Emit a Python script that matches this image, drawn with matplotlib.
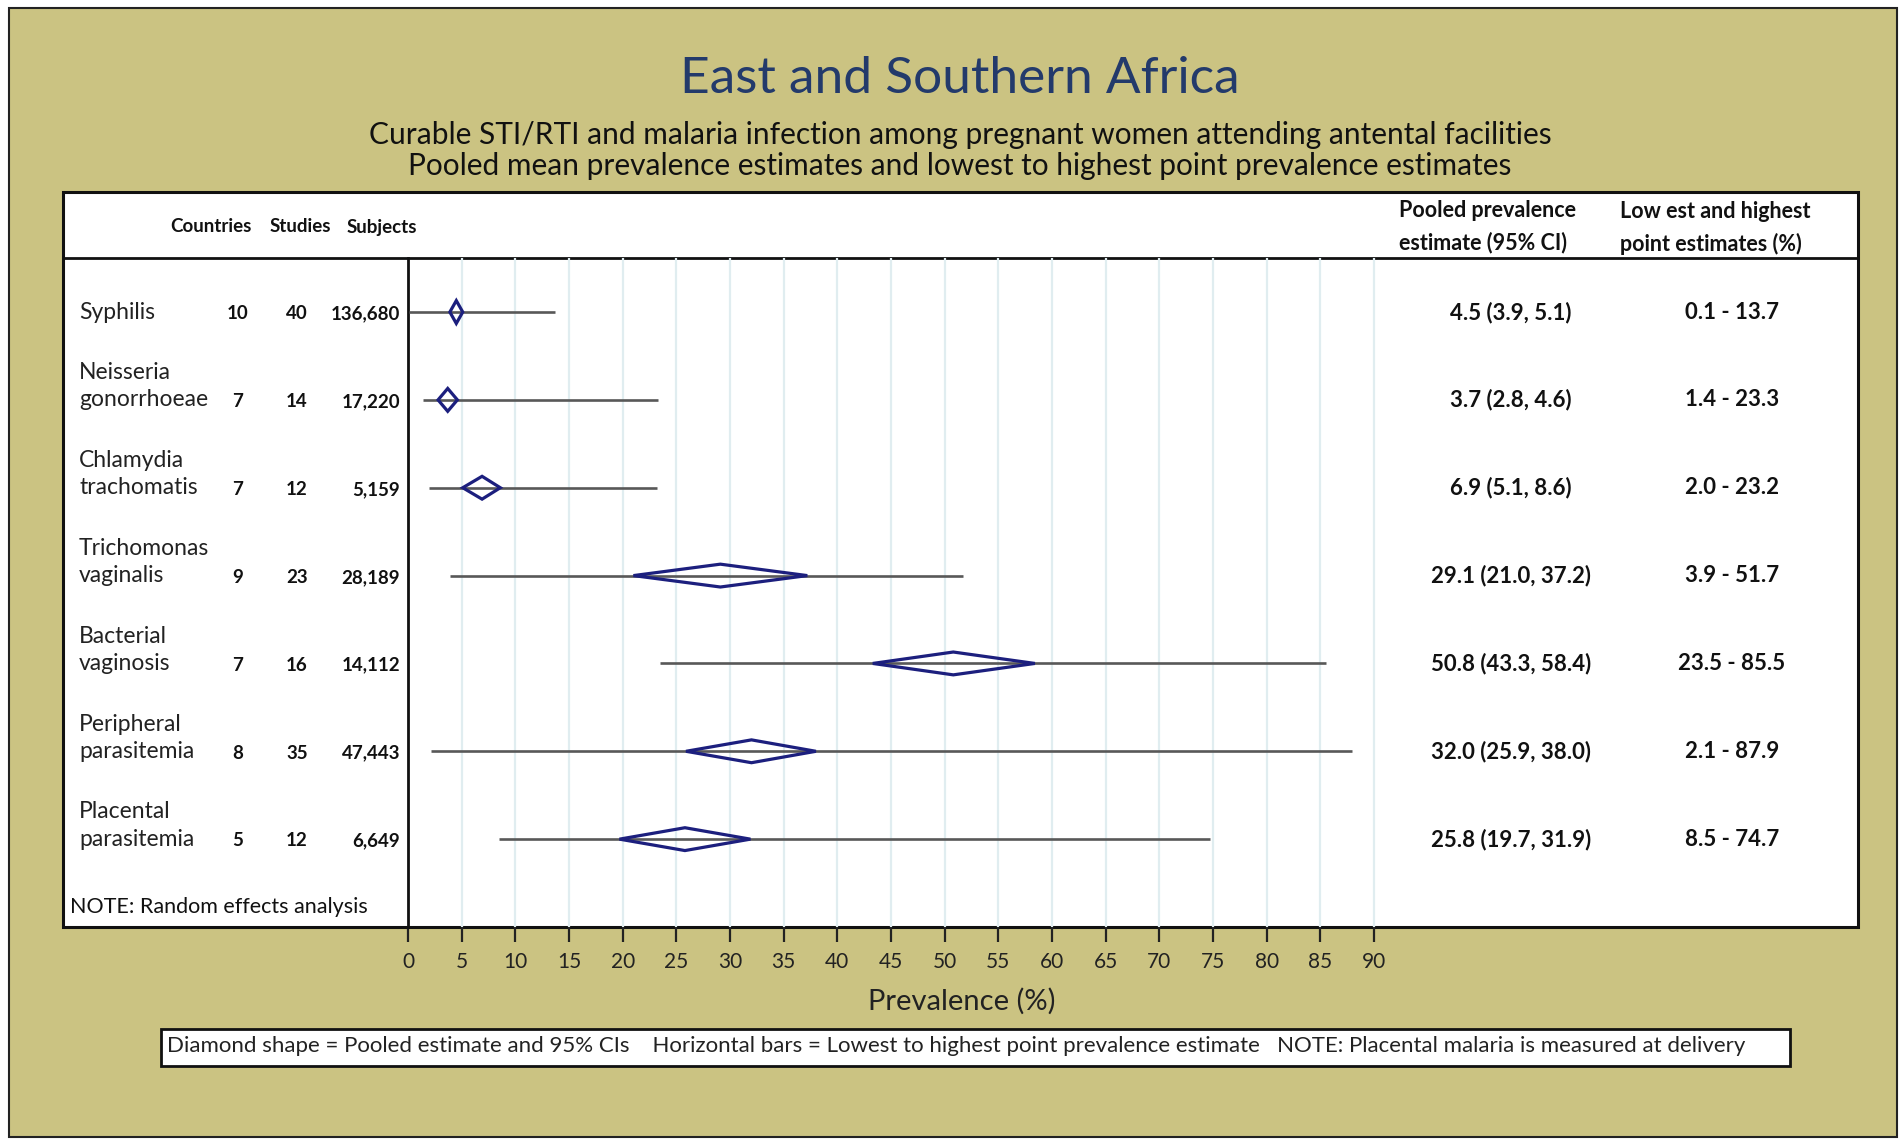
import matplotlib
matplotlib.use("Agg")
import matplotlib.pyplot as plt
from matplotlib.patches import Rectangle, Polygon
from matplotlib import transforms

plt.rcParams['font.family'] = ['Lato', 'DejaVu Sans']

# Forest plot data: pooled prevalence, 95% CI and lowest/highest point estimates
infections = ["Syphilis", "Neisseria\ngonorrhoeae", "Chlamydia\ntrachomatis",
              "Trichomonas\nvaginalis", "Bacterial\nvaginosis",
              "Peripheral\nparasitemia", "Placental\nparasitemia"]
countries = [10, 7, 7, 9, 7, 8, 5]
studies = [40, 14, 12, 23, 16, 35, 12]
subjects = [136680, 17220, 5159, 28189, 14112, 47443, 6649]
pooled = [4.5, 3.7, 6.9, 29.1, 50.8, 32.0, 25.8]
ci_low = [3.9, 2.8, 5.1, 21.0, 43.3, 25.9, 19.7]
ci_high = [5.1, 4.6, 8.6, 37.2, 58.4, 38.0, 31.9]
point_low = [0.1, 1.4, 2.0, 3.9, 23.5, 2.1, 8.5]
point_high = [13.7, 23.3, 23.2, 51.7, 85.5, 87.9, 74.7]
xticks = list(range(0, 95, 5))

W, H = 1903, 1139
KHAKI = '#cbc382'
NAVY = '#1c1f7e'
TITLE = '#233a6b'


def fx(px):
    return px / W


def fy(py):
    return 1 - py / H


fig = plt.figure(figsize=(W / 100, H / 100), dpi=100, facecolor='white')

# background card and panels
fig.add_artist(Rectangle((fx(9), fy(1137)), fx(1897 - 9), (1137 - 8) / H,
                         transform=fig.transFigure, facecolor=KHAKI,
                         edgecolor='#222222', lw=1.5, zorder=0))
fig.add_artist(Rectangle((fx(63), fy(927)), fx(1858 - 63), (927 - 192) / H,
                         transform=fig.transFigure, facecolor='white',
                         edgecolor='#111111', lw=2.2, zorder=1))
fig.add_artist(plt.Line2D([fx(63), fx(1858)], [fy(258), fy(258)],
                          transform=fig.transFigure, color='#111111', lw=2.0, zorder=2))
fig.add_artist(Rectangle((fx(161), fy(1066)), fx(1790 - 161), (1066 - 1029) / H,
                         transform=fig.transFigure, facecolor='white',
                         edgecolor='#111111', lw=2.0, zorder=1))

fig.text(fx(960), fy(79), "East and Southern Africa", ha='center', va='center',
         fontsize=37, color=TITLE)
fig.text(fx(960), fy(135), "Curable STI/RTI and malaria infection among pregnant women attending antental facilities",
         ha='center', va='center', fontsize=21.5, color='#111111')
fig.text(fx(960), fy(166), "Pooled mean prevalence estimates and lowest to highest point prevalence estimates",
         ha='center', va='center', fontsize=21.5, color='#111111')

# column headers
hdr = dict(fontsize=13.5, fontweight='bold', color='#111111', va='center', ha='center')
fig.text(fx(211), fy(227), "Countries", **hdr)
fig.text(fx(300), fy(227), "Studies", **hdr)
fig.text(fx(382), fy(227), "Subjects", **hdr)
fig.text(fx(1399), fy(227), "Pooled prevalence\nestimate (95% CI)", fontsize=15.5,
         fontweight='bold', color='#111111', va='center', ha='left', linespacing=1.6)
fig.text(fx(1620), fy(228), "Low est and highest\npoint estimates (%)", fontsize=15.5,
         fontweight='bold', color='#111111', va='center', ha='left', linespacing=1.6)

# forest axes: x=0 sits on the left column divider
x0_px, unit_px = 408, 10.734
left_px, right_px, top_px, bot_px = 408, 1858, 258, 927
ax = fig.add_axes([fx(left_px), fy(bot_px), fx(right_px - left_px), (bot_px - top_px) / H])
ax.set_zorder(5)
ax.patch.set_alpha(0)
ax.set_xlim(0, (right_px - x0_px) / unit_px)
ax.set_ylim(7.0, -0.615)
ax.set_xticks(xticks)
ax.set_yticks([])
ax.grid(axis='x', color='#e0edf0', lw=1.6)
ax.set_axisbelow(True)
for side in ['top', 'right', 'bottom']:
    ax.spines[side].set_visible(False)
ax.spines['left'].set_color('#111111')
ax.spines['left'].set_linewidth(2)
ax.tick_params(axis='x', direction='out', length=11, width=1.6, color='#222222',
               labelsize=15, labelcolor='#222222', pad=7)

rows = range(len(infections))
h = 0.13
for i in rows:
    ax.plot([point_low[i], point_high[i]], [i, i], color='#585858', lw=1.9,
            solid_capstyle='butt', zorder=3)
    ax.add_patch(Polygon([(ci_low[i], i), (pooled[i], i - h), (ci_high[i], i), (pooled[i], i + h)],
                         closed=True, fill=False, edgecolor=NAVY, lw=2.3, zorder=4))

# table text in figure-x / data-y coordinates
tr = transforms.blended_transform_factory(fig.transFigure, ax.transData)
for i in rows:
    lines = infections[i].split('\n')
    for k, line in enumerate(reversed(lines)):
        ax.text(fx(79), i - 0.31 * k, line, transform=tr, ha='left', va='center',
                fontsize=16.5, color='#222222', clip_on=False)
    num = dict(transform=tr, va='center', fontsize=13.5, fontweight='bold',
               color='#111111', clip_on=False)
    ax.text(fx(238), i + 0.02, str(countries[i]), ha='center', **num)
    ax.text(fx(297), i + 0.02, str(studies[i]), ha='center', **num)
    ax.text(fx(400), i + 0.02, f"{subjects[i]:,}", ha='right', **num)
    val = dict(transform=tr, va='center', ha='center', fontsize=16, fontweight='bold',
               color='#111111', clip_on=False)
    ax.text(fx(1511), i, f"{pooled[i]:.1f} ({ci_low[i]:.1f}, {ci_high[i]:.1f})", **val)
    ax.text(fx(1732), i, f"{point_low[i]:.1f} - {point_high[i]:.1f}", **val)

fig.text(fx(70), fy(907), "NOTE: Random effects analysis", ha='left', va='center',
         fontsize=15.5, color='#111111', zorder=6)
fig.text(fx(962), fy(1001), "Prevalence (%)", ha='center', va='center',
         fontsize=21, color='#222222')
fig.text(fx(167), fy(1046), "Diamond shape = Pooled estimate and 95% CIs    Horizontal bars = Lowest to highest "
         "point prevalence estimate   NOTE: Placental malaria is measured at delivery",
         ha='left', va='center', fontsize=16, color='#222222', zorder=6)

fig.savefig('out.png', dpi=100, facecolor='white')
